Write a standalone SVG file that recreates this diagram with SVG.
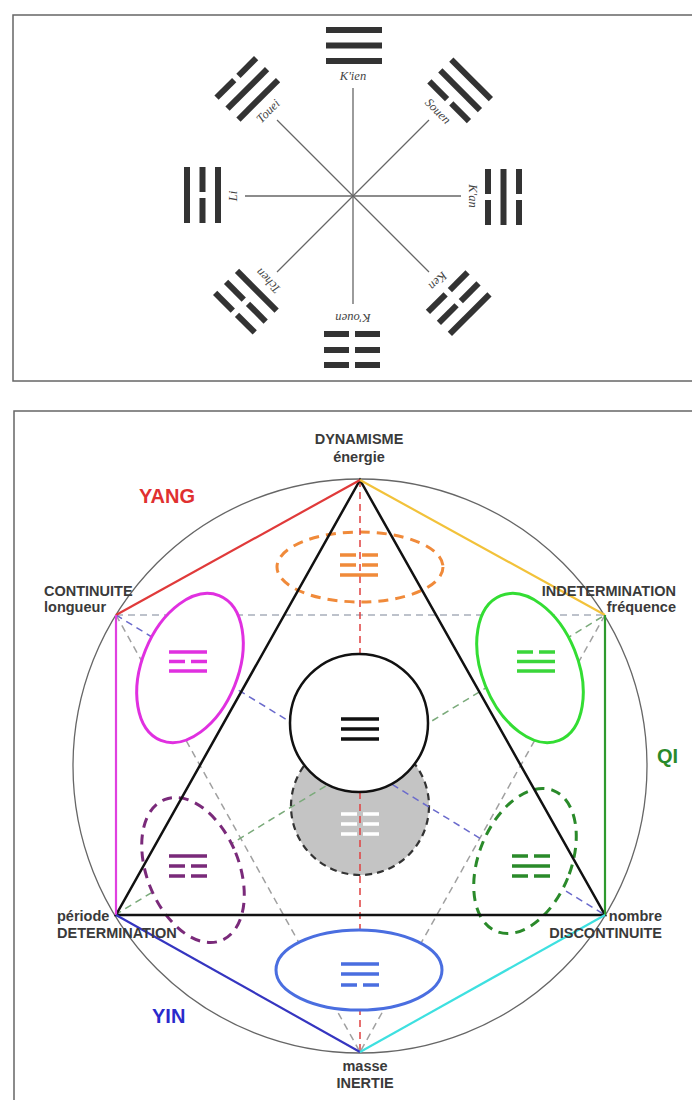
<svg xmlns="http://www.w3.org/2000/svg" width="692" height="1100" viewBox="0 0 692 1100">
<style>
.frame{fill:none;stroke:#666;stroke-width:1.5}
.ray{stroke:#666;stroke-width:1.3}
.bar{fill:#333}
.tl{font-family:"Liberation Serif",serif;font-style:italic;font-size:12.5px;fill:#444;text-anchor:middle}
.lbl{font-family:"Liberation Sans",Arial,sans-serif;font-weight:bold;font-size:14.5px;fill:#3a3a3a}
.big{font-family:"Liberation Sans",Arial,sans-serif;font-weight:bold;font-size:20px}
.dash{fill:none;stroke-width:1.5;stroke-dasharray:7 5}
.ell{fill:#fff;stroke-width:3}
.dell{fill:#fff;stroke-width:3;stroke-dasharray:10 7}
.tri{fill:none;stroke:#111;stroke-width:2.5;stroke-linejoin:miter}
.hex{stroke-width:2.2;fill:none}
</style>
<defs>
<g id="S"><rect x="-28" y="-3" width="56" height="6"/></g>
<g id="B"><rect x="-28" y="-3" width="25" height="6"/><rect x="3" y="-3" width="25" height="6"/></g>
<g id="s"><rect x="-19" y="-1.75" width="38" height="3.5"/></g>
<g id="b"><rect x="-19" y="-1.75" width="16" height="3.5"/><rect x="3" y="-1.75" width="16" height="3.5"/></g>
</defs>

<!-- ===== TOP PANEL ===== -->
<g id="top-panel">
<rect class="frame" x="13" y="15" width="700" height="366"/>
<g id="rays">
<line class="ray" x1="353" y1="88" x2="353" y2="304"/>
<line class="ray" x1="245" y1="196" x2="461" y2="196"/>
<line class="ray" x1="277" y1="120" x2="429" y2="272"/>
<line class="ray" x1="429" y1="120" x2="277" y2="272"/>
</g>
<g id="kien" class="bar" transform="rotate(0 353 196)">
<use href="#S" x="354" y="30"/><use href="#S" x="354" y="45.5"/><use href="#S" x="354" y="61"/>
<text class="tl" x="353" y="80">K'ien</text>
</g>
<g id="souen" class="bar" transform="rotate(45 353 196)">
<use href="#S" x="354" y="30"/><use href="#S" x="354" y="45.5"/><use href="#B" x="354" y="61"/>
<text class="tl" x="353" y="80">Souen</text>
</g>
<g id="kan" class="bar" transform="rotate(90 353 196)">
<use href="#B" x="354" y="30"/><use href="#S" x="354" y="45.5"/><use href="#B" x="354" y="61"/>
<text class="tl" x="353" y="80">K'an</text>
</g>
<g id="ken" class="bar" transform="rotate(135 353 196)">
<use href="#S" x="354" y="30"/><use href="#B" x="354" y="45.5"/><use href="#B" x="354" y="61"/>
<text class="tl" x="353" y="80">Ken</text>
</g>
<g id="kouen" class="bar" transform="rotate(180 353 196)">
<use href="#B" x="354" y="27"/><use href="#B" x="354" y="42"/><use href="#B" x="354" y="58"/>
<text class="tl" x="353" y="78">K'ouen</text>
</g>
<g id="tchen" class="bar" transform="rotate(225 353 196)">
<use href="#B" x="354" y="30"/><use href="#B" x="354" y="45.5"/><use href="#S" x="354" y="61"/>
<text class="tl" x="353" y="80">Tchen</text>
</g>
<g id="li" class="bar" transform="rotate(270 353 196)">
<use href="#S" x="354" y="30"/><use href="#B" x="354" y="45.5"/><use href="#S" x="354" y="61"/>
<text class="tl" x="353" y="80">Li</text>
</g>
<g id="touei" class="bar" transform="rotate(315 353 196)">
<use href="#B" x="354" y="30"/><use href="#S" x="354" y="45.5"/><use href="#S" x="354" y="61"/>
<text class="tl" x="353" y="80">Touei</text>
</g>
</g>

<!-- ===== BOTTOM PANEL ===== -->
<rect class="frame" x="14" y="411" width="700" height="720"/>
<circle id="outer-circle" cx="360" cy="766" r="287" fill="none" stroke="#666" stroke-width="1.3"/>

<g id="earth-circle">
<circle cx="360" cy="806" r="69" fill="#c4c4c4" stroke="#333" stroke-width="2.2" stroke-dasharray="7 5"/>
</g>
<g id="orange-ellipse-shape">
<ellipse cx="360" cy="567" rx="83" ry="35" fill="none" stroke="#f08a3a" stroke-width="3" stroke-dasharray="10 7"/>
</g>

<g id="connectors">
<line class="dash" x1="116" y1="615" x2="605" y2="615" stroke="#a8aebb"/>
<line class="dash" x1="360" y1="480" x2="360" y2="1052" stroke="#e04040" stroke-width="1.2" stroke-dasharray="4 4"/>
<line class="dash" x1="116" y1="615" x2="360" y2="1052" stroke="#a0a0a0"/>
<line class="dash" x1="605" y1="615" x2="360" y2="1052" stroke="#a0a0a0"/>
<line class="dash" x1="116" y1="615" x2="605" y2="915" stroke="#6a6acc"/>
<line class="dash" x1="115" y1="915" x2="605" y2="615" stroke="#7aaa7a"/>
</g>

<g id="n-magenta"><ellipse class="ell" cx="190" cy="668" rx="48" ry="78" transform="rotate(22 190 668)" stroke="#e030e0"/></g>
<g id="n-green"><ellipse class="ell" cx="530" cy="668" rx="48" ry="78" transform="rotate(-22 530 668)" stroke="#33dd33"/></g>
<g id="n-purple"><ellipse class="dell" cx="193" cy="870" rx="46" ry="76" transform="rotate(-22 193 870)" stroke="#7a2a7a"/></g>
<g id="n-dkgreen"><ellipse class="dell" cx="525" cy="861" rx="46" ry="76" transform="rotate(22 525 861)" stroke="#2a8a2a"/></g>
<g id="n-blue"><ellipse class="ell" cx="359" cy="970" rx="83" ry="40" stroke="#4a6ee0"/></g>
<g id="n-heaven"><circle cx="359" cy="723" r="69" fill="#fff" stroke="#111" stroke-width="2.5"/></g>

<g id="edges">
<path class="tri" d="M360 480 L116 915 L605 915 Z"/>
<line class="hex" x1="360" y1="480" x2="116" y2="615" stroke="#e03a3a"/>
<line class="hex" x1="360" y1="480" x2="605" y2="615" stroke="#f2c23a"/>
<line class="hex" x1="116" y1="615" x2="116" y2="915" stroke="#e040e0"/>
<line class="hex" x1="605" y1="615" x2="605" y2="915" stroke="#2e9a2e"/>
<line class="hex" x1="116" y1="915" x2="360" y2="1052" stroke="#3535c0"/>
<line class="hex" x1="605" y1="915" x2="360" y2="1052" stroke="#3ee0e0"/>
</g>

<g id="trigrams">
<g fill="#f08a3a"><use href="#b" x="359" y="555"/><use href="#b" x="359" y="565"/><use href="#s" x="359" y="575"/></g>
<g fill="#e030e0"><use href="#s" x="188" y="652"/><use href="#b" x="188" y="661.5"/><use href="#s" x="188" y="671"/></g>
<g fill="#3ad63a"><use href="#b" x="536" y="652"/><use href="#s" x="536" y="661.5"/><use href="#s" x="536" y="671"/></g>
<g fill="#111"><use href="#s" x="360" y="719"/><use href="#s" x="360" y="729"/><use href="#s" x="360" y="739"/></g>
<g fill="#fff"><use href="#b" x="360" y="814"/><use href="#b" x="360" y="824"/><use href="#b" x="360" y="834"/></g>
<g fill="#7a2a7a"><use href="#s" x="188" y="856"/><use href="#b" x="188" y="866"/><use href="#b" x="188" y="876"/></g>
<g fill="#2a8a2a"><use href="#b" x="531" y="856"/><use href="#s" x="531" y="866"/><use href="#b" x="531" y="876"/></g>
<g fill="#4a6ee0"><use href="#s" x="360" y="964"/><use href="#s" x="360" y="974"/><use href="#b" x="360" y="985"/></g>
</g>

<g id="labels">
<text class="lbl" x="359" y="444" text-anchor="middle">DYNAMISME</text>
<text class="lbl" x="359" y="462" text-anchor="middle">énergie</text>
<text class="lbl" x="44" y="596">CONTINUITE</text>
<text class="lbl" x="44" y="612">longueur</text>
<text class="lbl" x="676" y="596" text-anchor="end">INDETERMINATION</text>
<text class="lbl" x="676" y="612" text-anchor="end">fréquence</text>
<text class="lbl" x="57" y="921">période</text>
<text class="lbl" x="57" y="938">DETERMINATION</text>
<text class="lbl" x="662" y="921" text-anchor="end">nombre</text>
<text class="lbl" x="662" y="938" text-anchor="end">DISCONTINUITE</text>
<text class="lbl" x="365" y="1071" text-anchor="middle">masse</text>
<text class="lbl" x="365" y="1088" text-anchor="middle">INERTIE</text>
<text class="big" x="139" y="503" fill="#e03030">YANG</text>
<text class="big" x="657" y="763" fill="#2a8a2a">QI</text>
<text class="big" x="152" y="1023" fill="#2a2acc">YIN</text>
</g>
</svg>
